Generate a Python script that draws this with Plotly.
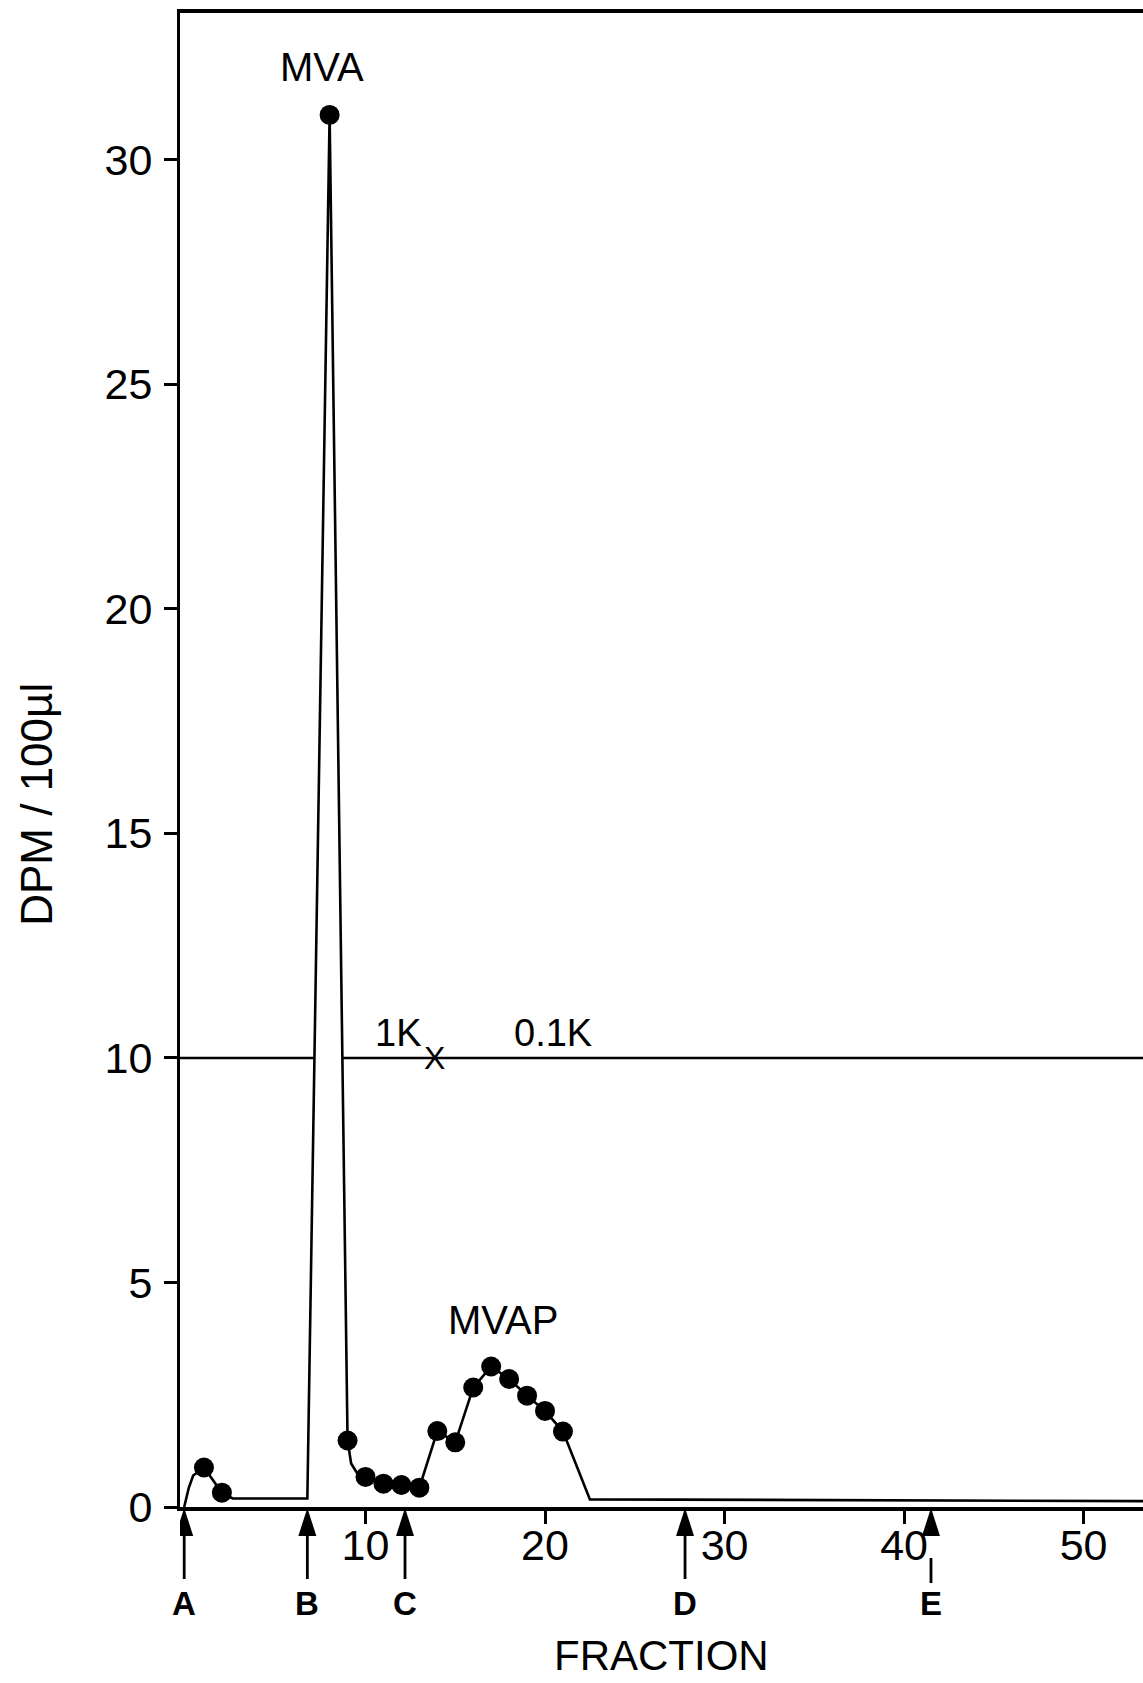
import numpy as np
import plotly.graph_objects as go

# ---------------- data ----------------
# measured fractions (filled circles)
fraction = [1, 2, 8, 9, 10, 11, 12, 13, 14, 15, 16, 17, 18, 19, 20, 21]
dpm = [0.88, 0.32, 31.0, 1.48, 0.67, 0.52, 0.49, 0.43, 1.69, 1.44,
       2.66, 3.13, 2.85, 2.48, 2.14, 1.68]

# unmarked vertices of the hand-drawn elution trace
trace_x = [-0.1, 0.15, 0.4, 2.6, 6.76, 9.2, 9.55, 22.5, 40, 54]
trace_y = [0, 0.42, 0.7, 0.19, 0.19, 0.97, 0.74, 0.17, 0.15, 0.13]

# salt step line
gradient_level = 10
gradient_labels = ["1K", "0.1K"]
gradient_label_x = [11.81, 20.47]
gradient_switch_x = 13.87

# events marked with arrows under the axis
event_labels = ["A", "B", "C", "D", "E"]
event_fraction = [-0.1, 6.76, 12.2, 27.8, 41.5]

# peak names
peak_labels = ["MVA", "MVAP"]
peak_label_x = [7.58, 17.66]
peak_label_y = [32.06, 4.16]

x_ticks = [10, 20, 30, 40, 50]
y_ticks = [0, 5, 10, 15, 20, 25, 30]

# ---------------- geometry ----------------
W, H = 1143, 1683
ML, MR, MT, MB = 180, 0, 13, 176
XR = [-0.334, 53.31]
YR = [0, 33.27]
FONT = "Liberation Sans"

# full drawn curve = measured points + unmarked vertices, ordered by fraction
cx = np.array(fraction + trace_x, dtype=float)
cy = np.array(dpm + trace_y, dtype=float)
order = np.argsort(cx, kind="stable")
cx, cy = cx[order], cy[order]

# crossings of the curve with the step line (the line is broken by the peak)
cross = []
for i in range(len(cx) - 1):
    y0, y1 = cy[i], cy[i + 1]
    if (y0 - gradient_level) * (y1 - gradient_level) < 0:
        t = (gradient_level - y0) / (y1 - y0)
        cross.append(cx[i] + t * (cx[i + 1] - cx[i]))
left_cross, right_cross = cross[0], cross[-1]

fig = go.Figure()

# step line (two pieces)
fig.add_trace(go.Scatter(x=[XR[0], left_cross], y=[gradient_level] * 2, mode="lines",
                         line=dict(color="black", width=2.4), hoverinfo="skip"))
fig.add_trace(go.Scatter(x=[right_cross, XR[1]], y=[gradient_level] * 2, mode="lines",
                         line=dict(color="black", width=2.4), hoverinfo="skip"))

# drawn curve
fig.add_trace(go.Scatter(x=cx, y=cy, mode="lines",
                         line=dict(color="black", width=2.6), hoverinfo="skip"))
# measured points
fig.add_trace(go.Scatter(x=fraction, y=dpm, mode="markers",
                         marker=dict(color="black", size=20, line=dict(width=0)),
                         cliponaxis=False))

annotations = []
for lab, lx, ly in zip(peak_labels, peak_label_x, peak_label_y):
    annotations.append(dict(x=lx, y=ly, xref="x", yref="y", text=lab, showarrow=False,
                            font=dict(family=FONT, size=40, color="black"),
                            xanchor="center", yanchor="middle"))
for lab, lx in zip(gradient_labels, gradient_label_x):
    annotations.append(dict(x=lx, y=gradient_level, xref="x", yref="y", text=lab,
                            showarrow=False, yshift=25,
                            font=dict(family=FONT, size=38, color="black"),
                            xanchor="center", yanchor="middle"))
annotations.append(dict(x=gradient_switch_x, y=gradient_level, xref="x", yref="y", text="X",
                        showarrow=False, font=dict(family=FONT, size=32, color="black"),
                        xanchor="center", yanchor="middle"))

# arrows + letters
shapes = []
HEAD_L, HEAD_W, SHAFT_END = 29, 9, -72
for lab, ex in zip(event_labels, event_fraction):
    shapes.append(dict(type="path", xref="x", yref="paper", xsizemode="pixel",
                       ysizemode="pixel", xanchor=ex, yanchor=0,
                       path=f"M 0 -1 L {-HEAD_W} {-HEAD_L} L {HEAD_W} {-HEAD_L} Z",
                       fillcolor="black", line=dict(width=0), layer="above"))
    top, bottom = (-51, -76) if lab == "E" else (-HEAD_L, SHAFT_END)
    shapes.append(dict(type="line", xref="x", yref="paper", xsizemode="pixel",
                       ysizemode="pixel", xanchor=ex, yanchor=0,
                       x0=0, x1=0, y0=top, y1=bottom,
                       line=dict(color="black", width=2.8), layer="above"))
    annotations.append(dict(x=ex, y=0, xref="x", yref="paper", text=f"<b>{lab}</b>",
                            showarrow=False, yshift=-96,
                            font=dict(family=FONT, size=33, color="black"),
                            xanchor="center", yanchor="middle"))

annotations.append(dict(x=0, y=0.47, xref="paper", yref="paper", text="DPM / 100µl",
                        textangle=-90, showarrow=False, xshift=-143,
                        font=dict(family=FONT, size=44, color="black"),
                        xanchor="center", yanchor="middle"))
annotations.append(dict(x=0.5005, y=-0.0997, xref="paper", yref="paper", text="FRACTION",
                        showarrow=False, font=dict(family=FONT, size=42, color="black"),
                        xanchor="center", yanchor="middle"))

fig.update_layout(
    width=W, height=H, margin=dict(l=ML, r=MR, t=MT, b=MB),
    paper_bgcolor="white", plot_bgcolor="white", showlegend=False,
    annotations=annotations, shapes=shapes,
    xaxis=dict(range=XR, tickvals=x_ticks, ticks="outside", ticklen=13, tickwidth=2.5,
               tickcolor="black", showline=True, linecolor="black", linewidth=3.5,
               mirror=True, showgrid=False, zeroline=False, ticklabelstandoff=-15,
               tickfont=dict(family=FONT, size=43, color="black")),
    yaxis=dict(range=YR, tickvals=y_ticks, ticks="outside", ticklen=13, tickwidth=2.5,
               tickcolor="black", showline=True, linecolor="black", linewidth=3,
               showgrid=False, zeroline=False, ticklabelstandoff=3,
               tickfont=dict(family=FONT, size=43, color="black")),
)

# the page's default body margin would push the figure off the window
fig.write_html("out.html", config={"displayModeBar": False},
               post_script="document.body.style.margin='0';"
                           "document.documentElement.style.overflow='hidden';")
